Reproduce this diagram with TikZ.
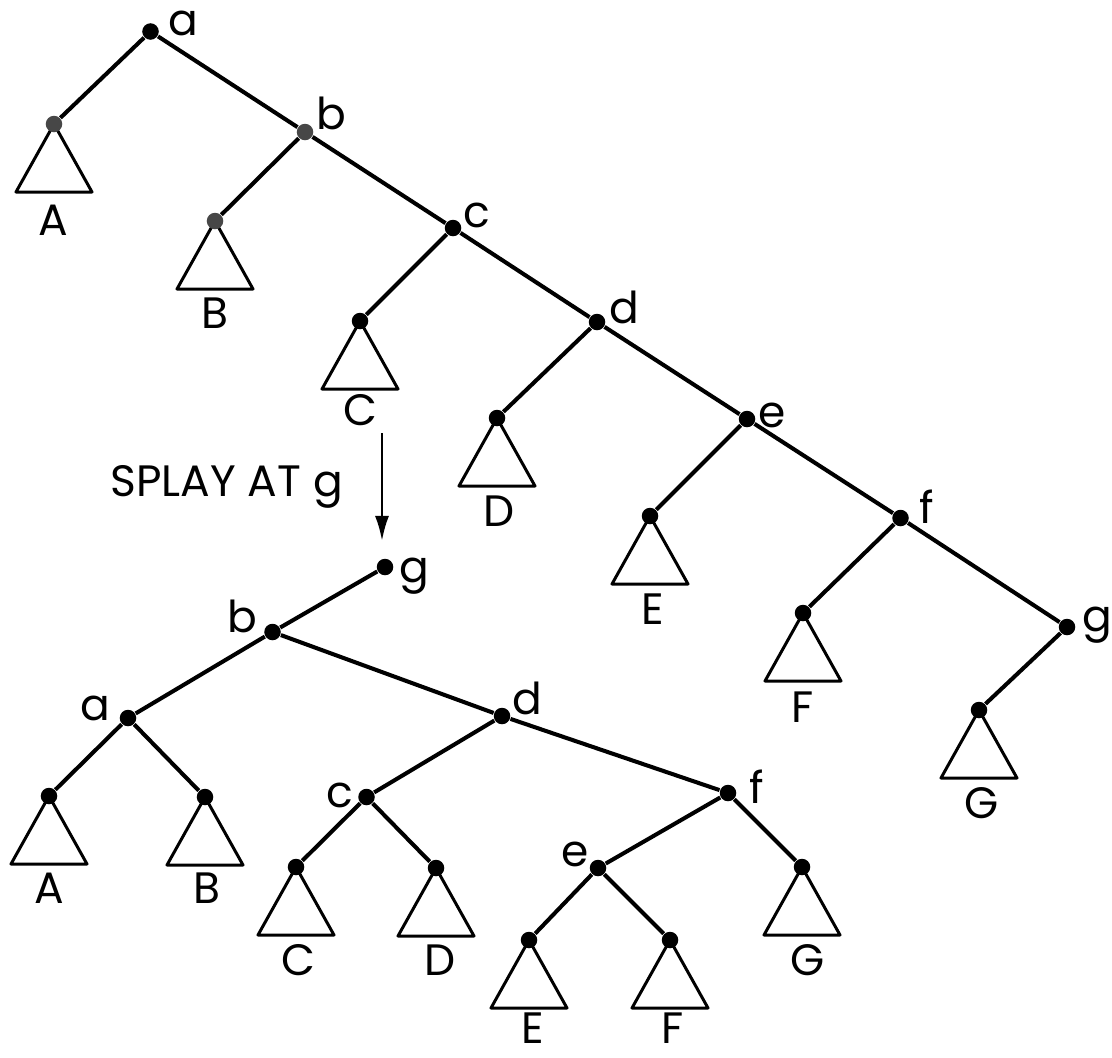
\documentclass[tikz,border=0pt]{standalone}
\usepackage{fontspec}
\setmainfont{Poppins}
\usetikzlibrary{arrows.meta,backgrounds}
\begin{document}
\begin{tikzpicture}[x=0.01cm,y=-0.01cm,
  dot/.style={circle,fill=black,inner sep=0pt,minimum size=0.165cm},
  greydot/.style={dot,fill=black!72},
  edge/.style={line width=1.15pt},
  subtree/.style={line width=0.85pt,line join=round},
  lbl/.style={inner sep=0pt,font=\fontsize{12.5}{14}\selectfont},
  caption/.style={lbl,anchor=base west},
  flow/.style={line width=0.75pt,-{Latex[length=0.25cm,width=0.14cm]}}]
\useasboundingbox (0,0) rectangle (1112,1057);

% ---------- tree before the splay ----------
\node[dot]     (a)  at (150.5,31.5) {};
\node[greydot] (Ar) at (54,124) {};
\node[greydot] (b)  at (305,132) {};
\node[greydot] (Br) at (215,221) {};
\node[dot]     (c)  at (453,228) {};
\node[dot]     (Cr) at (360,321) {};
\node[dot]     (d)  at (597,322) {};
\node[dot]     (Dr) at (497,418) {};
\node[dot]     (e)  at (747,419) {};
\node[dot]     (Er) at (650,516) {};
\node[dot]     (f)  at (900.5,518) {};
\node[dot]     (Fr) at (803,613) {};
\node[dot]     (g)  at (1067,627) {};
\node[dot]     (Gr) at (979,710) {};

\begin{scope}[on background layer]
  \draw[edge] (a) -- (Ar);
  \draw[edge] (a) -- (b);
  \draw[edge] (b) -- (Br);
  \draw[edge] (b) -- (c);
  \draw[edge] (c) -- (Cr);
  \draw[edge] (c) -- (d);
  \draw[edge] (d) -- (Dr);
  \draw[edge] (d) -- (e);
  \draw[edge] (e) -- (Er);
  \draw[edge] (e) -- (f);
  \draw[edge] (f) -- (Fr);
  \draw[edge] (f) -- (g);
  \draw[edge] (g) -- (Gr);
  \foreach \r in {Ar,Br,Cr,Dr,Er,Fr,Gr}
    \draw[subtree] (\r.center) -- ++(-38,68) -- ++(76,0) -- cycle;
\end{scope}

\node[lbl] (la) at (183,23)   {a};
\node[lbl] (lb) at (331,113)  {b};
\node[lbl] (lc) at (477,215)  {c};
\node[lbl] (ld) at (624,307)  {d};
\node[lbl] (le) at (772,415)  {e};
\node[lbl] (lf) at (927,507)  {f};
\node[lbl] (lg) at (1097,625) {g};

\node[lbl] (tA) at (53,220)  {A};
\node[lbl] (tB) at (215,313) {B};
\node[lbl] (tC) at (360,410) {C};
\node[lbl] (tD) at (499,511) {D};
\node[lbl] (tE) at (653,609) {E};
\node[lbl] (tF) at (803,707) {F};
\node[lbl] (tG) at (982,803) {G};

% ---------- the operation ----------
\node[caption] (op) at (110,496) {SPLAY AT g};
\coordinate (arrowtop) at (382,433);
\coordinate (arrowtip) at (382,541);
\draw[flow] (arrowtop) -- (arrowtip);

% ---------- tree after the splay ----------
\node[dot] (g2)  at (385,567) {};
\node[dot] (b2)  at (272.5,632) {};
\node[dot] (a2)  at (128,718) {};
\node[dot] (d2)  at (502,716) {};
\node[dot] (Ar2) at (49,796) {};
\node[dot] (Br2) at (205,797) {};
\node[dot] (c2)  at (366.5,797) {};
\node[dot] (f2)  at (728,793) {};
\node[dot] (Cr2) at (296,867) {};
\node[dot] (Dr2) at (436,868) {};
\node[dot] (e2)  at (598,868) {};
\node[dot] (Gr2) at (802,867) {};
\node[dot] (Er2) at (529,940) {};
\node[dot] (Fr2) at (670,940) {};

\begin{scope}[on background layer]
  \draw[edge] (g2) -- (b2);
  \draw[edge] (b2) -- (a2);
  \draw[edge] (b2) -- (d2);
  \draw[edge] (a2) -- (Ar2);
  \draw[edge] (a2) -- (Br2);
  \draw[edge] (d2) -- (c2);
  \draw[edge] (d2) -- (f2);
  \draw[edge] (c2) -- (Cr2);
  \draw[edge] (c2) -- (Dr2);
  \draw[edge] (f2) -- (e2);
  \draw[edge] (f2) -- (Gr2);
  \draw[edge] (e2) -- (Er2);
  \draw[edge] (e2) -- (Fr2);
  \foreach \r in {Ar2,Br2,Cr2,Dr2,Er2,Fr2,Gr2}
    \draw[subtree] (\r.center) -- ++(-38,68) -- ++(76,0) -- cycle;
\end{scope}

\node[lbl] (lg2) at (414,576) {g};
\node[lbl] (lb2) at (242,616) {b};
\node[lbl] (la2) at (95,708)  {a};
\node[lbl] (ld2) at (527,698) {d};
\node[lbl] (lc2) at (340,795) {c};
\node[lbl] (le2) at (575,854) {e};
\node[lbl] (lf2) at (757,787) {f};

\node[lbl] (bA) at (49,888)   {A};
\node[lbl] (bB) at (207,888)  {B};
\node[lbl] (bC) at (298,960)  {C};
\node[lbl] (bD) at (440,960)  {D};
\node[lbl] (bG) at (808,960)  {G};
\node[lbl] (bE) at (533,1028) {E};
\node[lbl] (bF) at (673,1028) {F};
\end{tikzpicture}
\end{document}
